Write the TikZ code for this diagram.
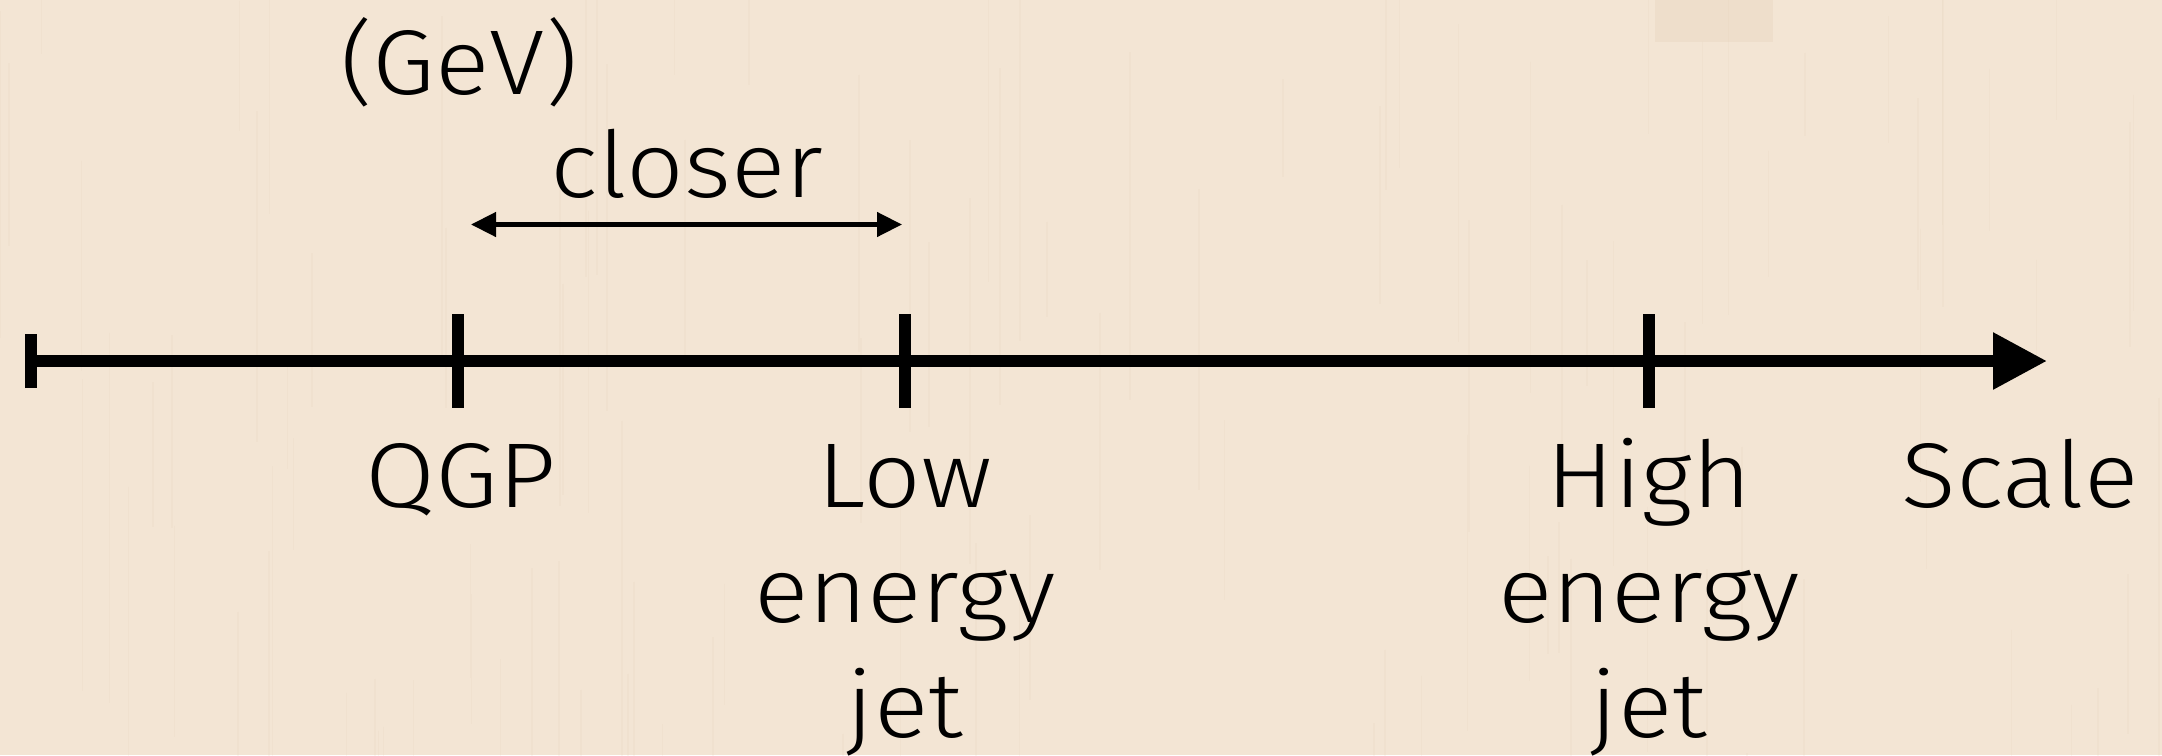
\documentclass[tikz,border=0pt]{standalone}
\usepackage{fontspec}
\setmainfont{Fira Sans}[UprightFont=* Light, FakeStretch=1.1]
\usetikzlibrary{arrows.meta}
\definecolor{woodbg}{RGB}{243,229,212}
\definecolor{woodgrain}{RGB}{226,206,182}
\definecolor{woodpatch}{RGB}{238,222,203}
\tikzset{
  axis/.style={line width=12pt, {Bar[width=54pt]}-{Triangle[length=54pt,width=54pt]}},
  tickmark/.style={line width=12pt},
  rangearrow/.style={line width=4.5pt, {Triangle[length=25pt,width=24pt]}-{Triangle[length=25pt,width=24pt]}},
  lbl/.style={font=\fontsize{92}{115}\selectfont, inner sep=0pt, anchor=base, align=center, text=black},
  grain/.style={draw=woodgrain, line width=1.5pt, opacity=0.15}
}
\begin{document}
\begin{tikzpicture}[x=1pt,y=-1pt]
  % background
  \fill[woodbg] (0,0) rectangle (2162,755);
  \useasboundingbox (0,0) rectangle (2162,755);
  \fill[woodpatch] (1655,0) rectangle (1773,42);
  \pgfmathsetseed{7}
  \foreach \i in {1,...,110}{
    \pgfmathsetmacro{\gx}{rnd*2162}
    \pgfmathsetmacro{\gy}{rnd*855-100}
    \pgfmathsetmacro{\gl}{80+rnd*300}
    \draw[grain] (\gx,\gy) -- (\gx,\gy+\gl);
  }
  % axis
  \coordinate (start) at (25,361);
  \coordinate (end) at (2047,361);
  \draw[axis] (start) -- (end);
  % ticks
  \coordinate (tq) at (458,361);
  \coordinate (tl) at (905,361);
  \coordinate (th) at (1649,361);
  \foreach \t in {tq,tl,th}{
    \draw[tickmark] ([yshift=47pt]\t) -- ([yshift=-47pt]\t);
  }
  % closer arrow
  \coordinate (cl) at (471,224.5);
  \coordinate (cr) at (902,224.5);
  \draw[rangearrow] (cl) -- (cr);
  % labels
  \node[lbl] (gev) at (459,94) {(GeV)};
  \node[lbl] (closer) at (687,197) {closer};
  \node[lbl] (qgp) at (461,507) {QGP};
  \node[lbl] (low) at (905,737) {Low\\energy\\jet};
  \node[lbl] (high) at (1649,737) {High\\energy\\jet};
  \node[lbl] (scale) at (2020,507) {Scale};
\end{tikzpicture}
\end{document}
